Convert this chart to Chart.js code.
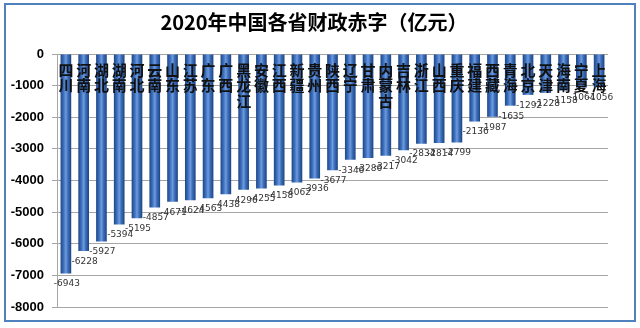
<!DOCTYPE html>
<html><head><meta charset="utf-8">
<script src="https://cdn.jsdelivr.net/npm/chart.js@4.4.1/dist/chart.umd.min.js"></script>
<style>
html,body{margin:0;padding:0;background:#fff;}
#wrap{position:relative;width:640px;height:328px;}
#frame{position:absolute;left:4px;top:3px;width:628px;height:315px;border:2.5px solid #4F81BD;pointer-events:none;}
canvas{position:absolute;left:0;top:0;}
</style></head>
<body><div id="wrap"><canvas id="c" width="640" height="328"></canvas><div id="frame"></div></div>
<script>
const titleText = "2020年中国各省财政赤字（亿元）";
const provinces = ["四川","河南","湖北","湖南","河北","云南","山东","江苏","广东","广西","黑龙江","安徽","江西","新疆","贵州","陕西","辽宁","甘肃","内蒙古","吉林","浙江","山西","重庆","福建","西藏","青海","北京","天津","海南","宁夏","上海"];
const deficits = [-6943,-6228,-5927,-5394,-5195,-4857,-4671,-4624,-4563,-4438,-4296,-4255,-4158,-4062,-3936,-3677,-3346,-3286,-3217,-3042,-2834,-2814,-2799,-2136,-1987,-1635,-1292,-1228,-1158,-1064,-1056];
const yTicks = [0,-1000,-2000,-3000,-4000,-5000,-6000,-7000,-8000];

const overlay = {
  id:'overlay',
  afterDatasetsDraw(chart){
    const ctx = chart.ctx, xs = chart.scales.x, ys = chart.scales.y;
    ctx.save();
    // title
    ctx.fillStyle = '#000';
    ctx.font = 'bold 20px "Noto Sans CJK SC"';
    ctx.textAlign = 'center'; ctx.textBaseline = 'middle';
    ctx.fillText(titleText, 314, 22);
    // category labels stacked vertically at top
    ctx.font = 'bold 15px "Noto Sans CJK SC"';
    ctx.fillStyle = '#111';
    provinces.forEach((p,i)=>{
      const x = xs.getPixelForValue(i);
      [...p].forEach((ch,k)=>{ ctx.fillText(ch, x, 70 + k*15.5); });
    });
    // value labels
    ctx.font = '9px "DejaVu Sans"';
    ctx.fillStyle = '#333';
    ctx.textBaseline = 'top';
    deficits.forEach((v,i)=>{
      const x = xs.getPixelForValue(i);
      const y = ys.getPixelForValue(v);
      ctx.fillText(String(v), x+1, y+6);
    });
    ctx.restore();
  }
};

function barFill(context){
  const chart = context.chart;
  const xs = chart.scales && chart.scales.x;
  if(!chart.chartArea || !xs) return '#2F64B0';
  const i = context.dataIndex;
  const cx = xs.getPixelForValue(i);
  const half = xs.width/provinces.length*0.6/2;
  const g = chart.ctx.createLinearGradient(cx-half,0,cx+half,0);
  g.addColorStop(0,'#1C4585');
  g.addColorStop(0.3,'#3F72C0');
  g.addColorStop(0.5,'#6D9BDD');
  g.addColorStop(0.7,'#3C6DBA');
  g.addColorStop(1,'#1B4381');
  return g;
}

new Chart(document.getElementById('c'),{
  type:'bar',
  data:{labels:provinces,datasets:[{data:deficits,backgroundColor:barFill,borderWidth:0,barPercentage:0.6,categoryPercentage:1.0}]},
  options:{
    responsive:false,animation:false,
    layout:{padding:{top:54,right:32,bottom:21,left:0}},
    plugins:{legend:{display:false},tooltip:{enabled:false},title:{display:false}},
    scales:{
      x:{display:false},
      y:{
        min:-8000,max:0,
        afterFit(s){s.width=57;},
        afterBuildTicks(s){s.ticks = yTicks.map(v=>({value:v}));},
        ticks:{color:'#000',font:{family:'"Liberation Sans"',size:13,weight:'bold'},padding:8,callback:v=>String(v)},
        grid:{color:'#A6A6A6',lineWidth:1,tickLength:5},
        border:{color:'#A6A6A6',width:1}
      }
    }
  },
  plugins:[overlay]
});
</script></body></html>
